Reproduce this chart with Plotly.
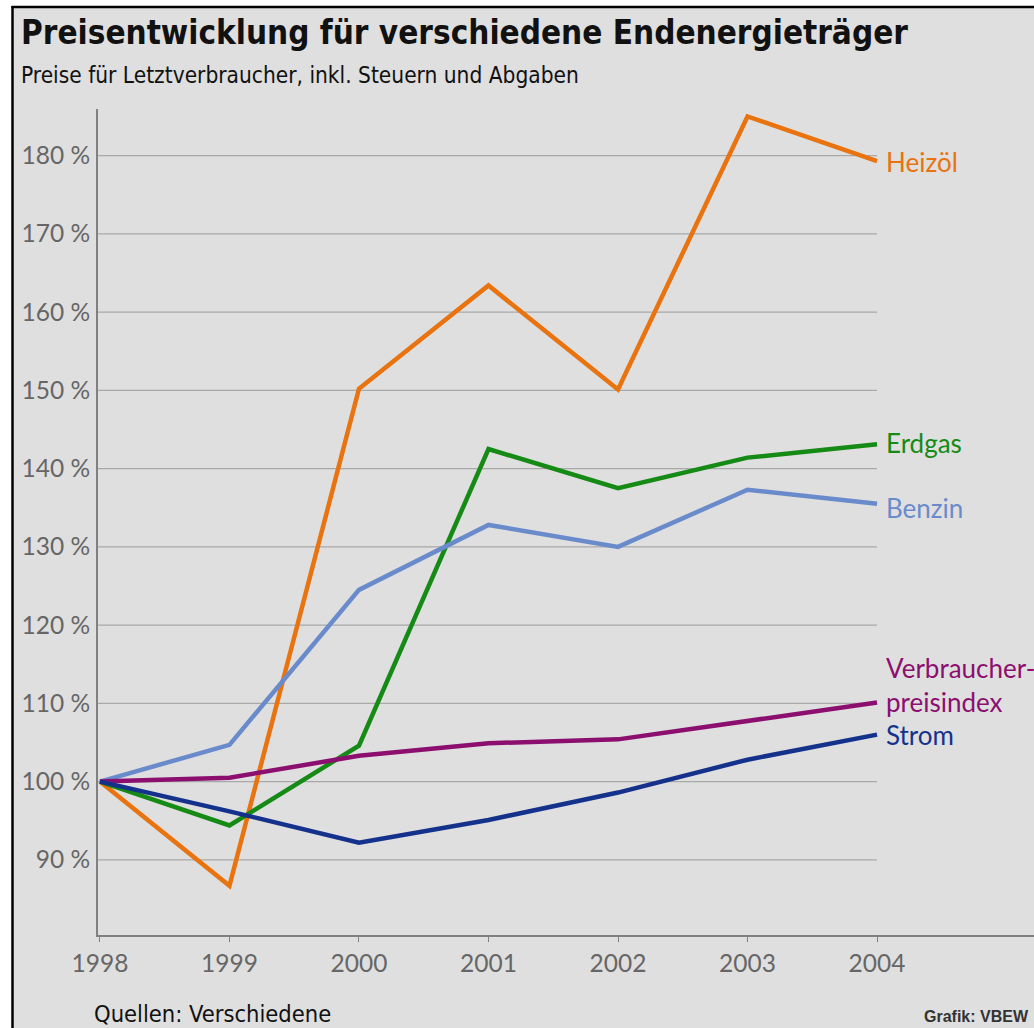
import plotly.graph_objects as go

years = [1998, 1999, 2000, 2001, 2002, 2003, 2004]
heizoel = [100, 86.7, 150.2, 163.4, 150.1, 185.0, 179.3]
erdgas = [100, 94.4, 104.6, 142.5, 137.5, 141.4, 143.1]
benzin = [100, 104.7, 124.5, 132.8, 130.0, 137.3, 135.5]
vpi = [100, 100.5, 103.3, 104.9, 105.4, 107.7, 110.1]
strom = [100, 96.2, 92.2, 95.1, 98.6, 102.8, 106.0]

y_ticks = [90, 100, 110, 120, 130, 140, 150, 160, 170, 180]
y_ticklabels = ["90 %", "100 %", "110 %", "120 %", "130 %", "140 %", "150 %", "160 %", "170 %", "180 %"]
x_ticklabels = ["1998", "1999", "2000", "2001", "2002", "2003", "2004"]

series = [
    ("Heizöl", heizoel, "#e8730f", -1),
    ("Erdgas", erdgas, "#158a15", 1),
    ("Benzin", benzin, "#6a8bcb", -4),
    ("Verbraucher-<br>preisindex", vpi, "#8c0f70", 18),
    ("Strom", strom, "#14328c", 0),
]

W, H = 1034, 1028
ML, MR, MT, MB = 98, 0, 109, 93
PW, PH = W - ML - MR, H - MT - MB

COND = "DejaVu Sans Condensed, Liberation Sans Narrow, DejaVu Sans"
GEO = "Lato, Open Sans, sans-serif"


def px(x):
    return (x - ML) / PW


def py(y):
    return 1 - (y - MT) / PH


fig = go.Figure()
for name, vals, color, _ in series:
    fig.add_trace(go.Scatter(x=years, y=vals, mode="lines", name=name,
                             line=dict(color=color, width=4.5), showlegend=False,
                             hoverinfo="skip"))

shapes = []
shapes.append(dict(type="rect", xref="paper", yref="paper", x0=px(13), x1=px(W + 5),
                   y0=py(H + 5), y1=py(7), fillcolor="#dfdfdf", line=dict(width=0), layer="below"))
shapes.append(dict(type="line", xref="paper", yref="paper", x0=px(12.5), x1=px(12.5),
                   y0=py(H + 5), y1=py(6), line=dict(color="black", width=2.5), layer="below"))
shapes.append(dict(type="line", xref="paper", yref="paper", x0=px(11.5), x1=px(W + 5),
                   y0=py(7), y1=py(7), line=dict(color="black", width=2.5), layer="below"))
for t in y_ticks:
    shapes.append(dict(type="line", xref="x", yref="y", x0=1997.985, x1=years[-1], y0=t, y1=t,
                       line=dict(color="#a9a9a9", width=1.2), layer="below"))

annotations = []
for name, vals, color, shift in series:
    annotations.append(dict(x=years[-1], y=vals[-1], xref="x", yref="y", text=name,
                            showarrow=False, xanchor="left", yanchor="middle", xshift=7,
                            yshift=shift, align="left",
                            font=dict(family=GEO, size=26, color=color)))

annotations.append(dict(x=px(19), y=py(32), xref="paper", yref="paper",
                        text="<b>Preisentwicklung für verschiedene Endenergieträger</b>",
                        showarrow=False, xanchor="left", yanchor="middle",
                        font=dict(family=COND, size=33, color="#111111")))
annotations.append(dict(x=px(19), y=py(75), xref="paper", yref="paper",
                        text="Preise für Letztverbraucher, inkl. Steuern und Abgaben",
                        showarrow=False, xanchor="left", yanchor="middle",
                        font=dict(family=COND, size=22.5, color="#111111")))
annotations.append(dict(x=px(92), y=py(1014), xref="paper", yref="paper",
                        text="Quellen: Verschiedene",
                        showarrow=False, xanchor="left", yanchor="middle",
                        font=dict(family=COND, size=23.5, color="#111111")))
annotations.append(dict(x=px(1031), y=py(1016), xref="paper", yref="paper",
                        text="<b>Grafik: VBEW</b>",
                        showarrow=False, xanchor="right", yanchor="middle",
                        font=dict(family="Liberation Sans, Arial", size=16, color="#333333")))

fig.update_layout(
    width=W, height=H,
    margin=dict(l=ML, r=MR, t=MT, b=MB),
    paper_bgcolor="white",
    plot_bgcolor="rgba(0,0,0,0)",
    shapes=shapes,
    annotations=annotations,
    xaxis=dict(range=[1997.985, 2005.212], tickvals=years, ticktext=x_ticklabels,
               showgrid=False, zeroline=False, showline=True, linecolor="#808080", linewidth=2,
               ticks="outside", ticklen=5, tickcolor="#808080", tickwidth=1,
               tickfont=dict(family=GEO, size=24.5, color="#666666"), ticklabelstandoff=1),
    yaxis=dict(range=[80.4, 185.95], tickvals=y_ticks, ticktext=y_ticklabels,
               showgrid=False, zeroline=False, showline=True, linecolor="#808080", linewidth=2,
               ticks="", tickfont=dict(family=GEO, size=24.5, color="#666666"),
               ticklabelstandoff=1),
)

fig.write_html("out.html", config={"displayModeBar": False},
               post_script="document.body.style.margin='0';document.body.style.overflow='hidden';")
